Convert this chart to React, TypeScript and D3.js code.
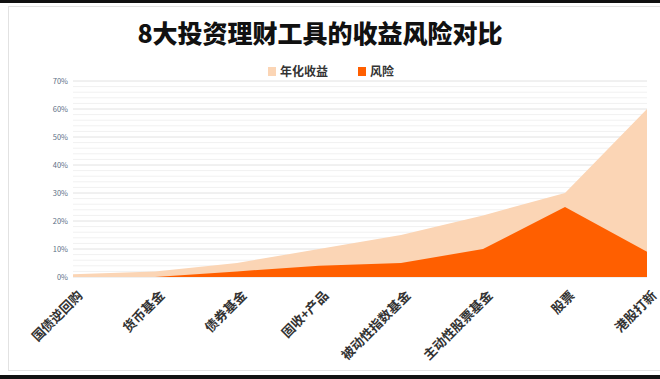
import React from "react";
import * as d3 from "d3";

const categories = ["国债逆回购", "货币基金", "债券基金", "固收+产品", "被动性指数基金", "主动性股票基金", "股票", "港股打新"];
const returnValues = [1, 2, 5, 10, 15, 22, 30, 60];
const riskValues = [0, 0, 2, 4, 5, 10, 25, 9];
const yTicks = [0, 10, 20, 30, 40, 50, 60, 70];
const seriesNames = ["年化收益", "风险"];

const W = 660;
const H = 379;
const FONT = "'Noto Sans CJK SC', 'Noto Sans', sans-serif";
const LIGHT = "#FBD5B5";
const DARK = "#FF5F00";

export default function App() {
  const x = d3.scalePoint<string>().domain(categories).range([73, 647]);
  const y = d3.scaleLinear().domain([0, 70]).range([277, 81]);
  const minor = d3.range(0, 71, 2);

  const area = d3
    .area<number>()
    .x((_, i) => x(categories[i]) as number)
    .y0(y(0))
    .y1((d) => y(d));

  return (
    <svg width={W} height={H} style={{ position: "absolute", left: 0, top: 0, background: "#fff" }} fontFamily={FONT}>
      <rect x={0} y={0} width={W} height={H} fill="#fff" />
      <rect x={0} y={0} width={W} height={3} fill="#111" />
      <rect x={0} y={375} width={W} height={4} fill="#111" />
      <rect x={8.5} y={6.5} width={W + 10} height={364} fill="none" stroke="#e2e2e2" />
      <text x={320} y={43} textAnchor="middle" fontSize={25} fontWeight={900} fill="#111">
        8大投资理财工具的收益风险对比
      </text>
      {/* legend */}
      <rect x={268} y={67} width={8} height={9} fill={LIGHT} />
      <text x={280} y={76} fontSize={12} fontWeight={700} fill="#333">{seriesNames[0]}</text>
      <rect x={358} y={67} width={8} height={9} fill={DARK} />
      <text x={370} y={76} fontSize={12} fontWeight={700} fill="#333">{seriesNames[1]}</text>
      {/* grid */}
      {minor.map((v) => (
        <line key={"m" + v} x1={73} x2={647} y1={y(v)} y2={y(v)} stroke={v % 10 === 0 ? "#e2e2e2" : "#f1f1f1"} strokeWidth={1} />
      ))}
      {yTicks.map((v) => (
        <text key={"t" + v} x={68} y={y(v)} dy="0.35em" textAnchor="end" fontSize={7.5} fill="#5d6f86">
          {v}%
        </text>
      ))}
      <path d={area(returnValues) || ""} fill={LIGHT} />
      <path d={area(riskValues) || ""} fill={DARK} />
      {categories.map((c) => (
        <text
          key={c}
          transform={`translate(${(x(c) as number) + 3},${289}) rotate(-45)`}
          textAnchor="end"
          dy="0.8em"
          fontSize={13}
          fontWeight={700}
          fill="#333"
        >
          {c}
        </text>
      ))}
    </svg>
  );
}
